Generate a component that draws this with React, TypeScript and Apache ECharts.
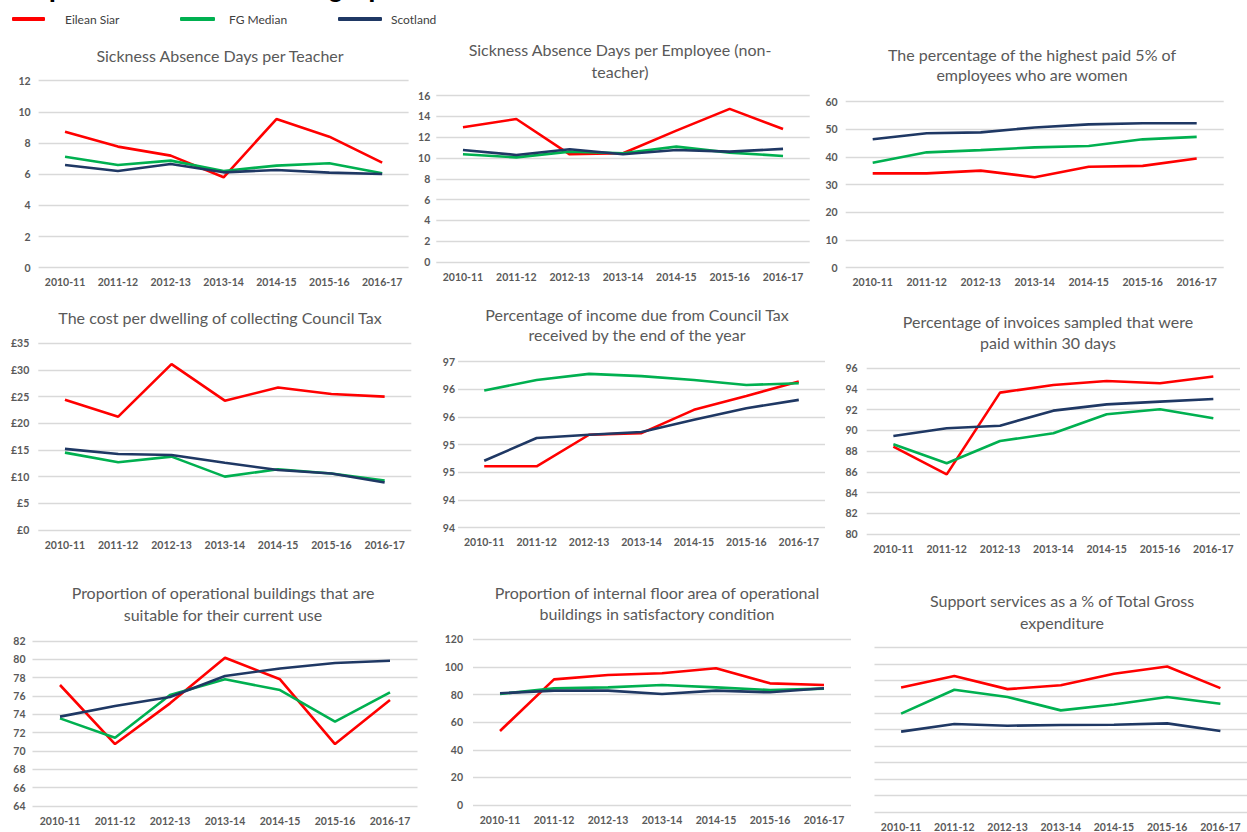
import React, { useEffect, useRef } from "react";
import * as echarts from "echarts";

const years = ["2010-11", "2011-12", "2012-13", "2013-14", "2014-15", "2015-16", "2016-17"];
const seriesNames = ["Eilean Siar", "FG Median", "Scotland"];

const titles = [
  "Sickness Absence Days per Teacher",
  "Sickness Absence Days per Employee (non-\nteacher)",
  "The percentage of the highest paid 5% of\nemployees who are women",
  "The cost per dwelling of collecting Council Tax",
  "Percentage of income due from Council Tax\nreceived by the end of the year",
  "Percentage of invoices sampled that were\npaid within 30 days",
  "Proportion of operational buildings that are\nsuitable for their current use",
  "Proportion of internal floor area of operational\nbuildings in satisfactory condition",
  "Support services as a % of Total Gross\nexpenditure",
];

// Panel 1: Sickness Absence Days per Teacher
const teacherEilean = [8.73, 7.77, 7.19, 5.8, 9.54, 8.41, 6.74];
const teacherFG = [7.12, 6.59, 6.87, 6.21, 6.55, 6.7, 6.06];
const teacherScot = [6.59, 6.21, 6.66, 6.12, 6.27, 6.1, 6.01];

// Panel 2: Sickness Absence Days per Employee (non-teacher)
const employeeEilean = [12.96, 13.76, 10.36, 10.46, 12.64, 14.73, 12.8];
const employeeFG = [10.36, 10.07, 10.62, 10.46, 11.1, 10.52, 10.2];
const employeeScot = [10.78, 10.3, 10.85, 10.36, 10.78, 10.62, 10.88];

// Panel 3: highest paid 5% who are women
const womenEilean = [34.1, 34.1, 35.1, 32.7, 36.5, 36.8, 39.5];
const womenFG = [37.9, 41.7, 42.5, 43.5, 44.0, 46.4, 47.3];
const womenScot = [46.4, 48.6, 48.9, 50.7, 51.8, 52.2, 52.2];

// Panel 4: cost per dwelling of collecting Council Tax (£)
const costEilean = [24.4, 21.25, 31.1, 24.25, 26.7, 25.5, 25.0];
const costFG = [14.5, 12.7, 13.75, 10.0, 11.4, 10.6, 9.25];
const costScot = [15.2, 14.25, 14.06, 12.6, 11.25, 10.6, 8.9];

// Panel 5: income due from Council Tax received by year end
const incomeEilean = [95.11, 95.11, 95.68, 95.71, 96.13, 96.38, 96.64];
const incomeFG = [96.48, 96.67, 96.78, 96.74, 96.67, 96.58, 96.61];
const incomeScot = [95.21, 95.62, 95.68, 95.73, 95.95, 96.16, 96.31];
const incomeTickLabels = ["94", "94", "95", "95", "96", "96", "97"];

// Panel 6: invoices paid within 30 days
const invoiceEilean = [88.44, 85.76, 93.65, 94.39, 94.78, 94.55, 95.2];
const invoiceFG = [88.66, 86.83, 88.98, 89.72, 91.56, 92.04, 91.17];
const invoiceScot = [89.47, 90.21, 90.46, 91.91, 92.52, 92.78, 93.04];

// Panel 7: operational buildings suitable for current use
const suitableEilean = [77.2, 70.76, 75.2, 80.18, 77.82, 70.76, 75.56];
const suitableFG = [73.56, 71.45, 76.1, 77.82, 76.65, 73.2, 76.4];
const suitableScot = [73.75, 74.9, 75.9, 78.18, 79.0, 79.6, 79.85];

// Panel 8: internal floor area in satisfactory condition
const floorEilean = [53.6, 91.0, 94.2, 95.4, 99.0, 88.1, 86.9];
const floorFG = [80.4, 84.5, 85.2, 86.9, 85.2, 83.3, 84.3];
const floorScot = [80.9, 82.8, 82.8, 80.4, 82.8, 81.6, 84.5];

// Panel 9: support services as % of total gross expenditure
const supportEilean = [7.56, 8.26, 7.46, 7.7, 8.39, 8.83, 7.52];
const supportFG = [5.97, 7.42, 6.98, 6.17, 6.53, 6.98, 6.57];
const supportScot = [4.88, 5.34, 5.24, 5.28, 5.3, 5.38, 4.92];

const panelData = [
  [teacherEilean, teacherFG, teacherScot],
  [employeeEilean, employeeFG, employeeScot],
  [womenEilean, womenFG, womenScot],
  [costEilean, costFG, costScot],
  [incomeEilean, incomeFG, incomeScot],
  [invoiceEilean, invoiceFG, invoiceScot],
  [suitableEilean, suitableFG, suitableScot],
  [floorEilean, floorFG, floorScot],
  [supportEilean, supportFG, supportScot],
];

// y-axis scales: [min, max, interval]
const yScales = [
  [0, 12, 2],
  [0, 16, 2],
  [0, 60, 10],
  [0, 35, 5],
  [94, 97, 0.5],
  [80, 96, 2],
  [64, 82, 2],
  [0, 120, 20],
  [0, 10, 1],
];

const colors = ["#FF0000", "#00B050", "#1F3864"];
const FONT = "Lato, 'Open Sans', sans-serif";
const LABEL_COLOR = "#595959";

// layout: grid left, top, width, height, y label margin; title center x, top, lineHeight
const layout = [
  { l: 38.6, t: 80.7, w: 370, h: 187, m: 8, tx: 215, tt: 40, lh: 20 },
  { l: 436.3, t: 95.7, w: 373.4, h: 166.3, m: 6, tx: 615, tt: 33.5, lh: 22 },
  { l: 845.7, t: 101.7, w: 378, h: 166, m: 8, tx: 1027, tt: 39.5, lh: 20 },
  { l: 38.3, t: 343.3, w: 373, h: 186.7, m: 9, tx: 215, tt: 302, lh: 20 },
  { l: 458, t: 361.7, w: 367, h: 166, m: 3, tx: 632, tt: 299.5, lh: 20 },
  { l: 866.7, t: 368.3, w: 373.3, h: 165.7, m: 9, tx: 1043, tt: 306, lh: 21 },
  { l: 32.5, t: 641, w: 385, h: 165, m: 7, tx: 218, tt: 576.5, lh: 22 },
  { l: 473, t: 639.3, w: 378, h: 165.7, m: 10, tx: 652, tt: 576.5, lh: 21 },
  { l: 874.5, t: 647.3, w: 380, h: 165.4, m: 8, tx: 1057, tt: 584.5, lh: 22 },
];

function yFormatter(i: number) {
  if (i === 3) return (v: number) => "£" + v;
  if (i === 4) return (v: number) => incomeTickLabels[Math.round((v - 94) / 0.5)] ?? "";
  return (v: number) => String(v);
}

function buildOption() {
  const grid = layout.map((g) => ({ left: g.l, top: g.t, width: g.w, height: g.h, containLabel: false }));
  const title = titles.map((t, i) => ({
    text: t,
    left: layout[i].tx,
    top: layout[i].tt,
    textAlign: "center",
    textStyle: {
      fontFamily: FONT,
      fontSize: 16,
      fontWeight: "normal",
      color: LABEL_COLOR,
      lineHeight: layout[i].lh,
    },
  }));
  const xAxis = layout.map((_, i) => ({
    type: "category",
    gridIndex: i,
    data: years,
    boundaryGap: true,
    axisLine: { show: false },
    axisTick: { show: false },
    axisLabel: {
      interval: 0,
      margin: 9,
      fontFamily: FONT,
      fontSize: 10.5,
      fontWeight: "bold",
      color: LABEL_COLOR,
    },
  }));
  const yAxis = layout.map((g, i) => ({
    type: "value",
    gridIndex: i,
    min: yScales[i][0],
    max: yScales[i][1],
    interval: yScales[i][2],
    axisLine: { show: false },
    axisTick: { show: false },
    splitLine: { lineStyle: { color: "#D9D9D9", width: 1.3 } },
    axisLabel: {
      show: i !== 8,
      margin: g.m,
      formatter: yFormatter(i),
      fontFamily: FONT,
      fontSize: 10.5,
      fontWeight: "bold",
      color: LABEL_COLOR,
    },
  }));
  const series: any[] = [];
  panelData.forEach((panel, i) => {
    panel.forEach((vals, k) => {
      series.push({
        type: "line",
        name: seriesNames[k],
        xAxisIndex: i,
        yAxisIndex: i,
        data: vals,
        symbol: "none",
        color: colors[k],
        lineStyle: { width: 2.6, color: colors[k] },
      });
    });
  });
  const legendBase = {
    top: 8,
    itemHeight: 4,
    icon: "roundRect",
    selectedMode: false,
  };
  const ts = { fontFamily: FONT, fontSize: 12, color: "#404040" };
  const legend = [
    { ...legendBase, left: 7, itemWidth: 33, data: [seriesNames[0]], textStyle: { ...ts, padding: [0, 0, 0, 15] } },
    { ...legendBase, left: 175, itemWidth: 35, data: [seriesNames[1]], textStyle: { ...ts, padding: [0, 0, 0, 9] } },
    { ...legendBase, left: 333, itemWidth: 44, data: [seriesNames[2]], textStyle: { ...ts, padding: [0, 0, 0, 4] } },
  ];
  return {
    animation: false,
    backgroundColor: "#ffffff",
    title,
    legend,
    grid,
    xAxis,
    yAxis,
    series,
    graphic: [
      {
        type: "text",
        left: 4,
        top: -25,
        style: {
          text: "Corporate Services Trend graphs",
          font: "bold 26px 'Liberation Sans', Arial, sans-serif",
          fill: "#000000",
        },
      },
    ],
  };
}

export default function App() {
  const ref = useRef<HTMLDivElement>(null);
  useEffect(() => {
    if (!ref.current) return;
    const chart = echarts.init(ref.current, undefined, { renderer: "svg" });
    chart.setOption(buildOption() as any);
    return () => chart.dispose();
  }, []);
  return (
    <div
      ref={ref}
      style={{ position: "absolute", left: 0, top: 0, width: 1247, height: 832, background: "#fff" }}
    />
  );
}
